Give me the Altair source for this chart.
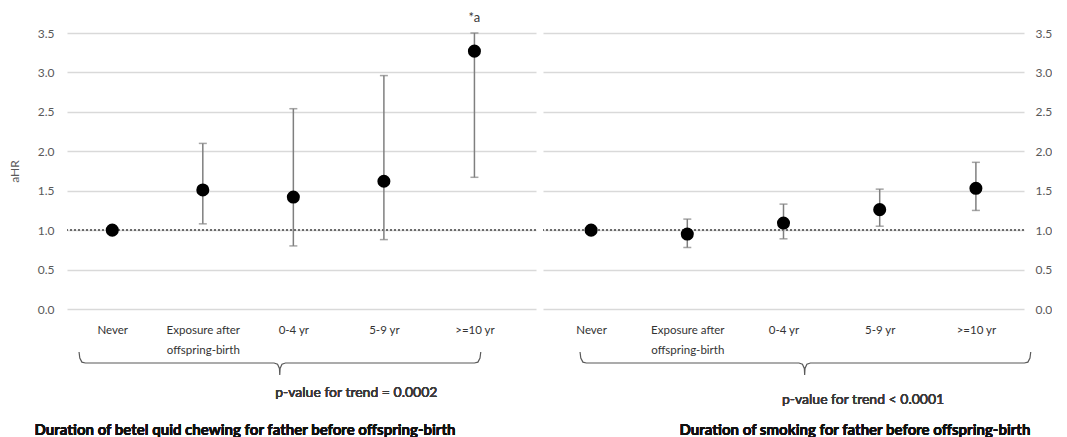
import altair as alt
import pandas as pd

# ---------------- data ----------------
categories = ["Never", "Exposure after\noffspring-birth", "0-4 yr", "5-9 yr", ">=10 yr"]

betel_ahr = [1.00, 1.51, 1.42, 1.62, 3.27]
betel_lo = [None, 1.08, 0.80, 0.88, 1.67]
betel_hi = [None, 2.10, 2.54, 2.96, 3.50]

smoke_ahr = [1.00, 0.95, 1.09, 1.26, 1.53]
smoke_lo = [None, 0.78, 0.89, 1.05, 1.25]
smoke_hi = [None, 1.14, 1.33, 1.52, 1.86]

y_ticks = [0.0, 0.5, 1.0, 1.5, 2.0, 2.5, 3.0, 3.5]
reference_value = 1.0

betel_note = "*a"
betel_trend = "p-value for trend = 0.0002"
smoke_trend = "p-value for trend < 0.0001"
betel_title = "Duration of betel quid chewing for father before offspring-birth"
smoke_title = "Duration of smoking for father before offspring-birth"

FONT = "Lato"
GRID = "#d9d9d9"
BAR = "#7f7f7f"


def label_expr():
    parts = []
    for i, c in enumerate(categories):
        lines = c.split("\n")
        if len(lines) == 1:
            lit = "'" + lines[0] + "'"
        else:
            lit = "[" + ",".join("'" + l + "'" for l in lines) + "]"
        parts.append(f"datum.value == {i} ? {lit} : ")
    return "".join(parts) + "''"


def brace_df(xl, xr, xt, ye, yb, yt, dx):
    dy = ye - yb
    pts = [
        (xl, ye),
        (xl + 0.12 * dx, yb + 0.45 * dy),
        (xl + 0.45 * dx, yb + 0.08 * dy),
        (xl + dx, yb),
        (xt - 0.9 * dx, yb),
        (xt - 0.35 * dx, yb - 0.1 * (yb - yt)),
        (xt - 0.05 * dx, yb - 0.45 * (yb - yt)),
        (xt, yt),
        (xt + 0.05 * dx, yb - 0.45 * (yb - yt)),
        (xt + 0.35 * dx, yb - 0.1 * (yb - yt)),
        (xt + 0.9 * dx, yb),
        (xr - dx, yb),
        (xr - 0.45 * dx, yb + 0.08 * dy),
        (xr - 0.12 * dx, yb + 0.45 * dy),
        (xr, ye),
    ]
    return pd.DataFrame({"i": range(len(pts)), "bx": [p[0] for p in pts], "by": [p[1] for p in pts]})


def panel(ahr, lo, hi, xdomain, width, orient, ytitle, brace, trend, trend_xy, title, title_xy, note=None):
    df = pd.DataFrame({"pos": list(range(len(categories))), "ahr": ahr, "lo": lo, "hi": hi})
    xscale = alt.Scale(domain=xdomain, nice=False, zero=False)
    yscale = alt.Scale(domain=[0, 3.5], nice=False, zero=False)
    xaxis = alt.Axis(values=list(range(len(categories))), labelExpr=label_expr(), title=None,
                     grid=False, ticks=False, tickSize=0, domain=False, labelPadding=21,
                     labelFont=FONT, labelFontSize=11.5, labelColor="#333333",
                     labelLineHeight=20, labelBaseline="middle")
    yaxis = alt.Axis(orient=orient, values=y_ticks, format=".1f", grid=True, gridColor=GRID,
                     gridWidth=1.5, ticks=False, tickSize=0, domain=False,
                     labelFont=FONT, labelFontSize=12, labelColor="#595959",
                     labelPadding=13 if orient == "left" else 11,
                     title=ytitle if ytitle else None,
                     titleFont=FONT, titleFontSize=12, titleColor="#595959",
                     titleFontWeight="normal", titlePadding=16)

    def X(f):
        return alt.X(f, scale=xscale, axis=xaxis)

    def Y(f):
        return alt.Y(f, scale=yscale, axis=yaxis)

    base = alt.Chart(df)
    ref = base.mark_rule(strokeDash=[2, 2], color="#6b6b6b", strokeWidth=1.3).encode(
        y=alt.Y(datum=reference_value, scale=yscale, axis=yaxis))
    bars = base.mark_rule(color=BAR, strokeWidth=1.5).encode(x=X("pos:Q"), y=Y("lo:Q"), y2="hi:Q")
    cap_lo = base.mark_tick(orient="horizontal", size=8, thickness=1.5, color=BAR).encode(
        x=X("pos:Q"), y=Y("lo:Q"))
    cap_hi = base.mark_tick(orient="horizontal", size=8, thickness=1.5, color=BAR).encode(
        x=X("pos:Q"), y=Y("hi:Q"))
    pts = base.mark_point(filled=True, color="black", opacity=1, size=170, shape="circle").encode(
        x=X("pos:Q"), y=Y("ahr:Q"))
    br = alt.Chart(brace).mark_line(color="#595959", strokeWidth=1.2, clip=False).encode(
        x=X("bx:Q"), y=Y("by:Q"), order="i:Q")
    tr = alt.Chart(df).mark_text(align="left", baseline="middle", font=FONT, fontSize=14,
                                 fontWeight="normal", color="#3a3a3a", clip=False).encode(
        x=alt.X(datum=trend_xy[0], scale=xscale, axis=xaxis),
        y=alt.Y(datum=trend_xy[1], scale=yscale, axis=yaxis),
        text=alt.value(trend))
    ti = alt.Chart(df).mark_text(align="center", baseline="middle", font=FONT, fontSize=15,
                                 fontWeight="bold", color="#111111", clip=False).encode(
        x=alt.X(datum=title_xy[0], scale=xscale, axis=xaxis),
        y=alt.Y(datum=title_xy[1], scale=yscale, axis=yaxis),
        text=alt.value(title))
    layers = [ref, bars, cap_lo, cap_hi, pts, br, tr, ti]
    if note:
        nt = alt.Chart(df).transform_filter(alt.datum.pos == len(categories) - 1).mark_text(
            baseline="middle", dy=-15, font=FONT, fontSize=13, fontWeight="normal",
            color="#3a3a3a", clip=False).encode(
            x=X("pos:Q"), y=alt.Y(datum=3.5, scale=yscale, axis=yaxis), text=alt.value(note))
        layers.append(nt)
    return alt.layer(*layers).properties(width=width, height=276)


left = panel(betel_ahr, betel_lo, betel_hi, [-0.5, 4.68], 469, "left", "aHR",
             brace_df(-0.367, 4.07, 1.85, -0.545, -0.685, -0.837, 0.07),
             betel_trend, (1.80, -1.065), betel_title, (1.466, -1.534), note=betel_note)
right = panel(smoke_ahr, smoke_lo, smoke_hi, [-0.5, 4.5], 481, "right", None,
              brace_df(-0.115, 4.57, 2.22, -0.545, -0.685, -0.837, 0.066),
              smoke_trend, (1.984, -1.154), smoke_title, (2.743, -1.534))

chart = alt.hconcat(left, right, spacing=7, bounds="flush").properties(
    padding={"left": 0, "top": 4, "right": 0, "bottom": 0},
    background="white",
).configure_view(stroke=None)

chart.save("out.html", embed_options={"renderer": "svg", "actions": False})
